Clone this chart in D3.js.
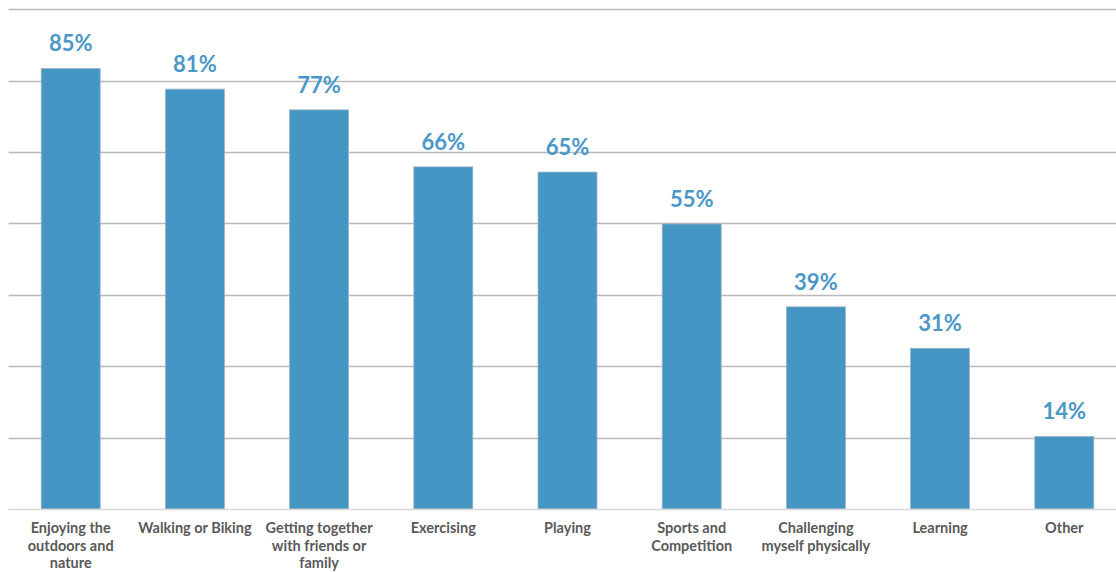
<!DOCTYPE html>
<html>
<head>
<meta charset="utf-8">
<script src="https://cdn.jsdelivr.net/npm/d3@7"></script>
<style>
  html, body { margin: 0; padding: 0; background: #fff; }
  svg { display: block; }
</style>
</head>
<body>
<svg id="chart" width="1116" height="572"></svg>
<script>
// Share of respondents choosing each activity
const categories = [
  "Enjoying the outdoors and nature",
  "Walking or Biking",
  "Getting together with friends or family",
  "Exercising",
  "Playing",
  "Sports and Competition",
  "Challenging myself physically",
  "Learning",
  "Other"
];
const values = [85, 81, 77, 66, 65, 55, 39, 31, 14];
const valueLabels = ["85%", "81%", "77%", "66%", "65%", "55%", "39%", "31%", "14%"];

// Value axis: top of the plot and number of gridline divisions
const yMax = 96.4;
const gridDivisions = 7;

const W = 1116, H = 572;
const plot = { left: 8.6, right: 1126.4, top: 9.3, bottom: 509 };

const svg = d3.select("#chart");

const x = d3.scaleBand()
  .domain(categories)
  .range([plot.left, plot.right])
  .paddingInner(0.525)
  .paddingOuter(0.2625);

const y = d3.scaleLinear()
  .domain([0, yMax])
  .range([plot.bottom, plot.top]);

const gridValues = d3.range(1, gridDivisions + 1).map(i => yMax * i / gridDivisions);

// Horizontal gridlines
svg.append("g")
  .selectAll("line")
  .data(gridValues)
  .join("line")
  .attr("x1", plot.left)
  .attr("x2", W)
  .attr("y1", d => Math.round(y(d)) + 0.5)
  .attr("y2", d => Math.round(y(d)) + 0.5)
  .attr("stroke", "#b9b9b9")
  .attr("stroke-width", 1.5);

// Bars
svg.append("g")
  .selectAll("rect")
  .data(categories)
  .join("rect")
  .attr("x", d => x(d))
  .attr("y", (d, i) => y(values[i]))
  .attr("width", x.bandwidth())
  .attr("height", (d, i) => y(0) - y(values[i]))
  .attr("fill", "#4596c5")
  .attr("stroke", "#9fb3c2")
  .attr("stroke-width", 0.8);

// Category axis line
svg.append("line")
  .attr("x1", plot.left)
  .attr("x2", W)
  .attr("y1", y(0) + 0.5)
  .attr("y2", y(0) + 0.5)
  .attr("stroke", "#d9d9d9")
  .attr("stroke-width", 1.5);

// Value labels above the bars
svg.append("g")
  .selectAll("text")
  .data(categories)
  .join("text")
  .attr("x", d => x(d) + x.bandwidth() / 2)
  .attr("y", (d, i) => y(values[i]) - 17)
  .attr("text-anchor", "middle")
  .attr("font-family", "Lato, 'Open Sans', sans-serif")
  .attr("font-weight", "bold")
  .attr("font-size", 22)
  .attr("fill", "#4a97c8")
  .text((d, i) => valueLabels[i]);

// Category labels, wrapped to the band width
const maxLineWidth = 120;
const labelG = svg.append("g");
categories.forEach(name => {
  const t = labelG.append("text")
    .attr("x", x(name) + x.bandwidth() / 2)
    .attr("y", 533)
    .attr("text-anchor", "middle")
    .attr("font-family", "Lato, 'Open Sans', sans-serif")
    .attr("font-weight", "bold")
    .attr("font-size", 14.5)
    .attr("fill", "#595959");
  const words = name.split(" ");
  let line = [];
  let tspan = t.append("tspan").attr("x", x(name) + x.bandwidth() / 2).attr("dy", 0);
  words.forEach(w => {
    line.push(w);
    tspan.text(line.join(" "));
    if (tspan.node().getComputedTextLength() > maxLineWidth && line.length > 1) {
      line.pop();
      tspan.text(line.join(" "));
      line = [w];
      tspan = t.append("tspan")
        .attr("x", x(name) + x.bandwidth() / 2)
        .attr("dy", 17.7)
        .text(w);
    }
  });
});
</script>
</body>
</html>
